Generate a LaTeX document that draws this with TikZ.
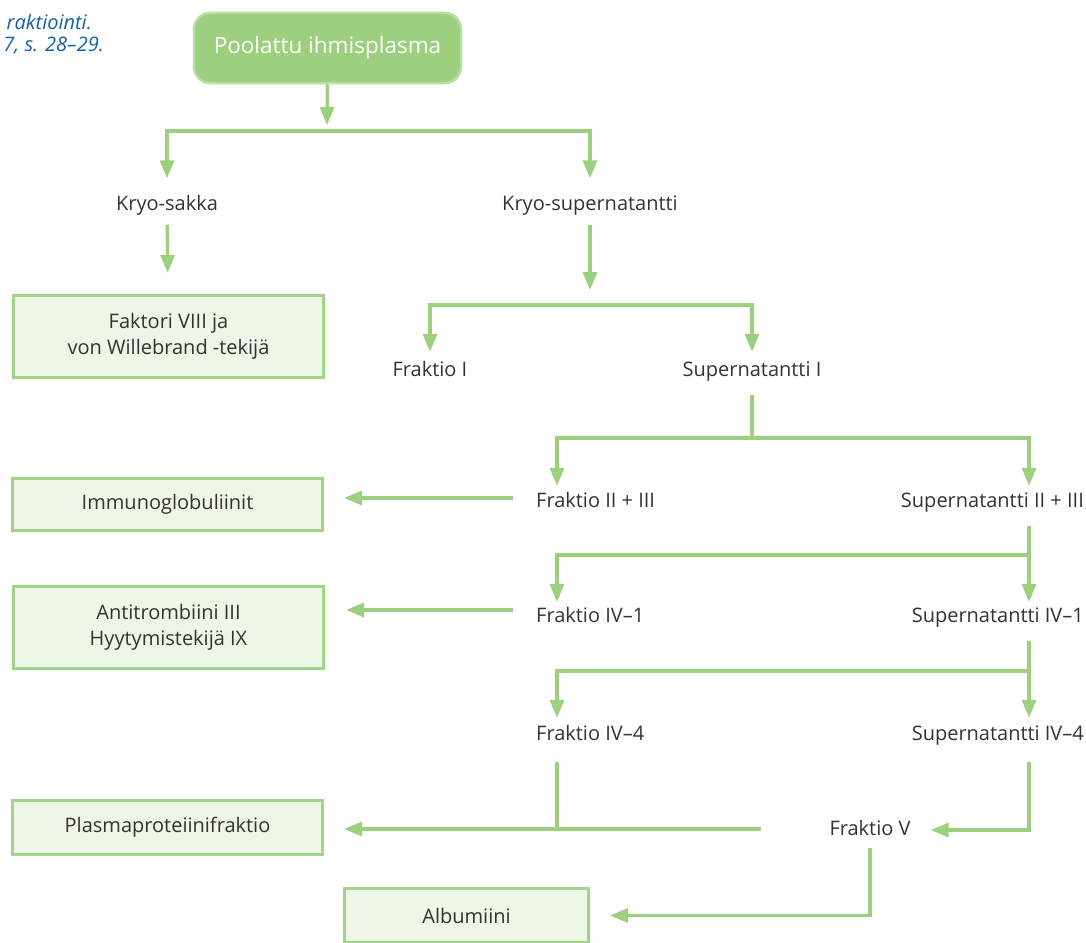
\documentclass[tikz,border=0pt]{standalone}
\usepackage{fontspec}
\setmainfont{Open Sans}
\usetikzlibrary{arrows.meta,positioning,calc}
\definecolor{leafgreen}{RGB}{156,208,127}
\definecolor{lightleaf}{RGB}{184,223,163}
\definecolor{palegreen}{RGB}{238,246,231}
\definecolor{edgegreen}{RGB}{160,212,135}
\definecolor{textgrey}{RGB}{51,51,51}
\definecolor{captionblue}{RGB}{22,96,166}
\tikzset{
  fraction/.style={inner sep=0pt,text height=15pt,text depth=4pt,
    font=\fontsize{20}{24}\selectfont,text=textgrey},
  productbox/.style={draw=edgegreen,fill=palegreen,line width=3pt,
    minimum width=310pt,align=center,font=\fontsize{20}{26}\selectfont,text=textgrey},
  caption/.style={anchor=east,inner sep=0pt,text=captionblue,
    font=\fontsize{20}{24}\selectfont\itshape},
  flow/.style={draw=leafgreen,line width=3.3pt},
  flowarrow/.style={flow,-{Triangle[length=18pt,width=14pt]}},
}
\begin{document}
\begin{tikzpicture}[x=1pt,y=-1pt]
      \useasboundingbox (0,0) rectangle (1086,942);

      % caption, cut off by the page edge
      \node[caption] (cap1) at (92,22) {raktiointi.};
      \node[caption] (cap2) at (104,46) {7, s. 28--29.};

      % branch points
      \coordinate (j0) at (327,131);
      \coordinate (j1) at (590,305);
      \coordinate (j2) at (752,438);
      \coordinate (j3) at (1029,555);
      \coordinate (j4) at (1029,671);
      \coordinate (j5) at (557,831);

      \node[draw=lightleaf,fill=leafgreen,line width=2.5pt,rounded corners=16pt,
        minimum width=267pt,minimum height=70pt,text=white,
        font=\fontsize{22.5}{26}\selectfont] (top) at (327.5,48) {Poolattu ihmisplasma};

      \node[fraction] (ks) at (167,205) {Kryo-sakka};
      \node[fraction] (kss) at (590,205) {Kryo-supernatantti};
      \node[fraction] (f1) at (430,371) {Fraktio I};
      \node[fraction] (s1) at (752,371) {Supernatantti I};
      \node[fraction,anchor=west] (f23) at (536,502) {Fraktio II + III};
      \node[fraction,anchor=east] (s23) at (1084,502) {Supernatantti II + III};
      \node[fraction,anchor=west] (f41) at (536,617) {Fraktio IV--1};
      \node[fraction,anchor=east] (s41) at (1084,617) {Supernatantti IV--1};
      \node[fraction,anchor=west] (f44) at (536,735) {Fraktio IV--4};
      \node[fraction,anchor=east] (s44) at (1084,735) {Supernatantti IV--4};
      \node[fraction] (f5) at (870,830) {Fraktio V};

      \node[productbox,minimum height=82pt] (faktori) at (168.5,336.5) {Faktori VIII ja\\von Willebrand -tekijä};
      \node[productbox,minimum height=52pt] (immuno) at (167.5,504.5) {Immunoglobuliinit};
      \node[productbox,minimum height=82pt] (anti) at (168.5,627.5) {Antitrombiini III\\Hyytymistekijä IX};
      \node[productbox,minimum height=54pt] (plasma) at (167.5,827.5) {Plasmaproteiinifraktio};
      \node[productbox,minimum width=244pt,minimum height=54pt] (albu) at (466.5,915.5) {Albumiini};

      % cryo step
      \draw[flowarrow,shorten >=6pt] (top) -- (j0);
      \draw[flowarrow,shorten >=17pt] (j0) -| (ks);
      \draw[flowarrow,shorten >=17pt] (j0) -| (kss);
      \draw[flowarrow,shorten <=10pt,shorten >=21pt] (ks) -- (faktori);
      \draw[flowarrow,shorten <=10pt,shorten >=15pt] (kss) -- (j1);

      % fraction I
      \draw[flowarrow,shorten >=9.5pt] (j1) -| (f1);
      \draw[flowarrow,shorten >=9.5pt] (j1) -| (s1);
      \draw[flow,shorten <=14pt] (s1) -- (j2);

      % fraction II + III
      \draw[flowarrow,shorten >=6.5pt] (j2) -| ([xshift=21pt]f23.north west);
      \draw[flowarrow,shorten >=6.5pt] (j2) -| ([xshift=-55pt]s23.north east);
      \draw[flowarrow,shorten <=23pt,shorten >=20pt] ([yshift=4pt]f23.west) -- ([yshift=4pt]f23.west -| immuno.east);

      % fraction IV-1
      \draw[flowarrow,shorten <=14pt,shorten >=5.5pt] ([xshift=-55pt]s23.south east) -- ([xshift=-55pt]s41.north east);
      \draw[flowarrow,shorten >=5.5pt] (j3) -| ([xshift=21pt]f41.north west);
      \draw[flowarrow,shorten <=23pt,shorten >=21pt] ([yshift=7pt]f41.west) -- ([yshift=7pt]f41.west -| anti.east);

      % fraction IV-4
      \draw[flowarrow,shorten <=14pt,shorten >=7.5pt] ([xshift=-55pt]s41.south east) -- ([xshift=-55pt]s44.north east);
      \draw[flowarrow,shorten >=7.5pt] (j4) -| ([xshift=21pt]f44.north west);
      \draw[flow,shorten <=17pt] ([xshift=21pt]f44.south west) -- (j5);
      \draw[flowarrow,shorten <=17pt,shorten >=20pt] ([xshift=-55pt]s44.south east) |- (f5);

      % fraction V
      \draw[flowarrow,shorten <=68pt,shorten >=20pt] ([yshift=1pt]f5.west) -- ([yshift=1pt]f5.west -| plasma.east);
      \draw[flowarrow,shorten <=8pt,shorten >=20pt] (f5) |- (albu);

\end{tikzpicture}
\end{document}
